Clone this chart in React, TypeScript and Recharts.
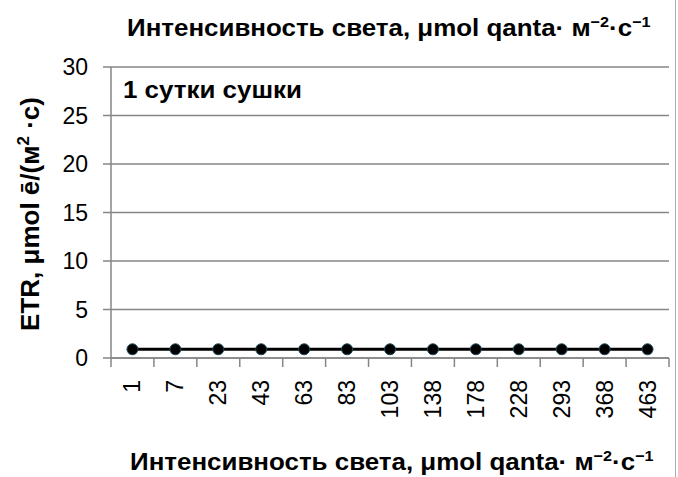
import React from 'react';
import { LineChart, Line, XAxis, YAxis, CartesianGrid } from 'recharts';

const lightLevels = ['1', '7', '23', '43', '63', '83', '103', '138', '178', '228', '293', '368', '463'];
const etrValues = [0.9, 0.9, 0.9, 0.9, 0.9, 0.9, 0.9, 0.9, 0.9, 0.9, 0.9, 0.9, 0.9];
const yTicks = [0, 5, 10, 15, 20, 25, 30];

const data = lightLevels.map((name, i) => ({ name, etr: etrValues[i] }));

const FONT = 'Arial, "Liberation Sans", sans-serif';
const GRID = '#868686';

// category label rotated, plus Excel-style tick marks between the categories
function RotatedTick({ x, y, payload, index }: any) {
    const half = payload.offset || 0;
    const last = index === lightLevels.length - 1;
    return (
        <g>
            <line x1={x - half} x2={x - half} y1={y} y2={y + 9} stroke={GRID} strokeWidth={1.5} />
            {last && <line x1={x + half} x2={x + half} y1={y} y2={y + 9} stroke={GRID} strokeWidth={1.5} />}
            <text
                x={x}
                y={y + 22}
                transform={`rotate(-90 ${x} ${y + 22})`}
                textAnchor="end"
                dominantBaseline="central"
                fontSize={23}
                fontFamily={FONT}
                fill="#000"
            >
                {payload.value}
            </text>
        </g>
    );
}

function AxisTitle() {
    return (
        <>
            Интенсивность света, μmol qanta· м<sup style={{ fontSize: 15 }}>−2</sup>·с<sup style={{ fontSize: 15 }}>−1</sup>
        </>
    );
}

export default function App() {
    const titleStyle: React.CSSProperties = {
        position: 'absolute',
        fontFamily: FONT,
        fontWeight: 'bold',
        fontSize: 24,
        color: '#000',
        whiteSpace: 'nowrap',
        lineHeight: 1,
    };
    return (
        <div style={{ position: 'fixed', left: 0, top: 0, width: 678, height: 477, background: '#fff', overflow: 'hidden' }}>
            <div style={{ ...titleStyle, left: 127, top: 14, transform: 'scaleX(1.08)', transformOrigin: 'left' }}>
                <AxisTitle />
            </div>
            <div style={{ position: 'absolute', right: 2, top: 0, bottom: 0, width: 1, background: '#aaa' }} />
            <LineChart
                width={678}
                height={477}
                data={data}
                margin={{ top: 67, right: 9, left: 0, bottom: 59 }}
            >
                <CartesianGrid vertical={false} stroke={GRID} strokeWidth={1.5} />
                <YAxis
                    width={111}
                    domain={[0, 30]}
                    ticks={yTicks}
                    interval={0}
                    tick={{ fontSize: 23, fontFamily: FONT, fill: '#000' }}
                    tickSize={8}
                    tickMargin={15}
                    stroke={GRID}
                    strokeWidth={1.5}
                />
                <XAxis
                    dataKey="name"
                    scale="band"
                    interval={0}
                    height={60}
                    tickLine={false}
                    tickSize={0}
                    tickMargin={0}
                    tick={<RotatedTick />}
                    stroke={GRID}
                    strokeWidth={1.5}
                />
                <Line
                    dataKey="etr"
                    stroke="#000"
                    strokeWidth={3}
                    dot={{ r: 5.5, fill: '#000', stroke: '#1b4a5a', strokeWidth: 1 }}
                    isAnimationActive={false}
                />
            </LineChart>
            <div style={{ ...titleStyle, left: 123, top: 78, transform: 'scaleX(1.08)', transformOrigin: 'left' }}>
                1 сутки сушки
            </div>
            <div
                style={{
                    ...titleStyle,
                    fontSize: 26,
                    left: 29,
                    top: 214,
                    transform: 'translate(-50%, -50%) rotate(-90deg)',
                }}
            >
                ETR, μmol ē/(м<sup style={{ fontSize: 17 }}>2</sup> ·с)
            </div>
            <div style={{ ...titleStyle, left: 130, top: 448, transform: 'scaleX(1.08)', transformOrigin: 'left' }}>
                <AxisTitle />
            </div>
        </div>
    );
}
